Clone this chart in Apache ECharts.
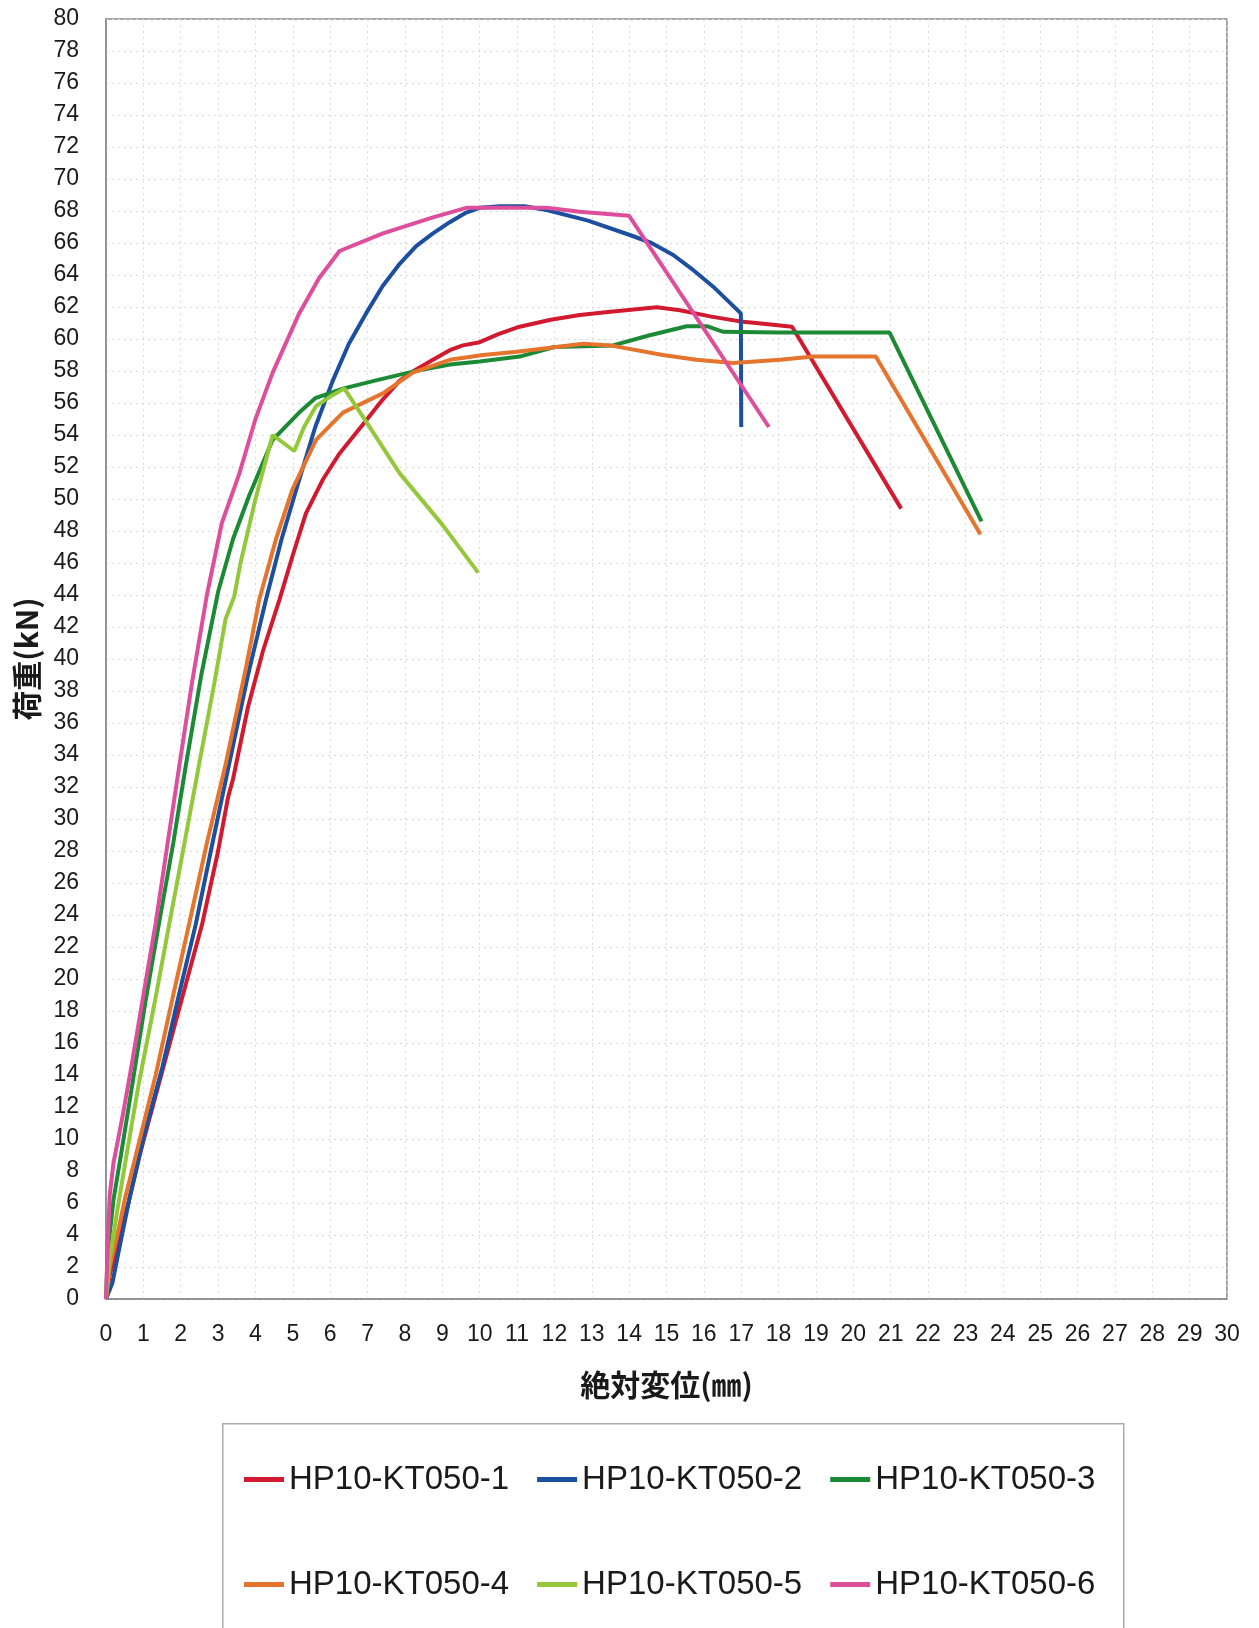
<!DOCTYPE html>
<html><head><meta charset="utf-8">
<script src="https://cdn.jsdelivr.net/npm/echarts@6/dist/echarts.min.js"></script>
<style>html,body{margin:0;padding:0;background:#fff}#c{width:1259px;height:1628px}</style>
</head><body><div id="c"></div>
<script>
const seriesNames = ['HP10-KT050-1','HP10-KT050-2','HP10-KT050-3','HP10-KT050-4','HP10-KT050-5','HP10-KT050-6'];
const xTitle = '絶対変位(㎜)';
const yTitle = '荷重(kN)';

const s1 = [[0,0],[0.1,1.5],[0.4,4.2],[0.62,6.2],[0.9,9],[1.42,13.5],[2.0,18.5],[2.57,23.4],[3.0,28],[3.27,31.4],[3.4,32.5],[3.8,37],[4.2,40.5],[4.64,43.7],[5.0,46.5],[5.35,49.1],[5.8,51.2],[6.25,52.85],[6.96,54.9],[7.4,56.2],[7.86,57.4],[8.3,58.1],[8.75,58.7],[9.2,59.3],[9.55,59.6],[10,59.8],[10.5,60.3],[11.07,60.77],[11.9,61.2],[12.68,61.5],[13.5,61.7],[14.74,61.98],[15.36,61.8],[16.2,61.4],[16.97,61.1],[17.4,61.0],[18.36,60.77],[21.28,49.4]];
const s2 = [[0,0],[0.17,1],[0.35,3.1],[0.62,6.2],[1.05,10.5],[1.51,14.5],[1.95,19],[2.4,23.4],[2.85,28.5],[3.3,33.5],[3.8,39],[4.28,43.7],[4.7,47.5],[5.17,51.2],[5.6,54.5],[6.07,57.4],[6.5,59.7],[6.96,61.6],[7.4,63.3],[7.86,64.7],[8.3,65.8],[8.75,66.6],[9.2,67.3],[9.64,67.9],[10.0,68.2],[10.54,68.3],[11.2,68.3],[11.79,68.06],[12.9,67.4],[14.02,66.5],[14.6,66.0],[15.18,65.25],[15.72,64.3],[16.25,63.27],[16.99,61.6],[17.0,54.5]];
const s3 = [[0,0],[0.05,3],[0.2,6.2],[0.4,9],[0.71,13.5],[1.05,18.5],[1.42,23.5],[1.8,28.5],[2.14,33.4],[2.55,39],[3.0,44.2],[3.4,47.5],[3.83,50.2],[4.46,53.7],[5.17,55.4],[5.6,56.3],[6.34,56.9],[7.2,57.4],[8.21,57.96],[9.2,58.4],[10,58.6],[11.07,58.9],[12,59.5],[13.57,59.6],[14.5,60.2],[15.54,60.8],[16.08,60.8],[16.52,60.45],[18,60.4],[20.97,60.4],[23.43,48.6]];
const s4 = [[0,0],[0.1,2],[0.35,4.5],[0.5,6.2],[0.8,9],[1.33,14],[1.8,19],[2.23,23.5],[2.7,28.5],[3.21,33.5],[3.75,39.5],[4.1,43.7],[4.55,47.5],[4.99,50.6],[5.62,53.7],[6.34,55.4],[7.41,56.6],[8.21,57.9],[9.2,58.7],[10.09,59.0],[11,59.2],[12.77,59.7],[13.5,59.6],[14.9,59.0],[15.8,58.7],[16.79,58.5],[18.04,58.7],[18.93,58.9],[20.6,58.9],[23.4,47.8]];
const s5 = [[0,0],[0.1,2.5],[0.3,5.5],[0.55,9],[0.88,13.5],[1.3,18.5],[1.69,23.4],[2.1,28.5],[2.49,33.4],[2.9,38.5],[3.2,42.5],[3.43,43.9],[3.6,46],[4.0,50],[4.46,54.0],[4.75,53.5],[5.04,53.0],[5.3,54.5],[5.62,55.8],[6.0,56.4],[6.38,56.9],[7.0,54.7],[7.86,51.6],[9.0,48.4],[9.96,45.4]];
const s6 = [[0,0],[0.04,3],[0.1,6.5],[0.2,8.5],[0.45,11.5],[0.7,14.8],[1.0,19],[1.33,23.5],[1.65,28.5],[1.96,33.3],[2.3,38.5],[2.7,44],[3.1,48.5],[3.57,51.6],[4.0,55],[4.46,57.9],[5.17,61.6],[5.7,63.8],[6.25,65.5],[7.41,66.6],[8.75,67.6],[9.64,68.2],[10,68.2],[11.79,68.2],[12.68,67.96],[14.0,67.7],[17.74,54.5]];
const seriesData = [s1,s2,s3,s4,s5,s6];
const colors = ['#d11a2f','#1d4fa0','#1c8a34','#e5742c','#92c83a','#dd4f9c'];

const chart = echarts.init(document.getElementById('c'));
const numFont = 'Liberation Sans, Arial, sans-serif';
const cjkFont = 'Noto Sans CJK JP, sans-serif';
const legendCommon = {
  orient: 'horizontal', itemWidth: 40, itemHeight: 5, itemGap: 28, icon: 'rect',
  textStyle: { fontSize: 33, fontFamily: numFont, color: '#1a1a1a' },
  selectedMode: false
};
chart.setOption({
  backgroundColor: '#fff',
  animation: false,
  color: colors,
  grid: { left: 106, right: 32, top: 19, bottom: 329, show: true, borderColor: '#8a8a8a', borderWidth: 1.5, containLabel: false },
  xAxis: {
    type: 'value', min: 0, max: 30, interval: 1,
    name: xTitle, nameLocation: 'middle', nameGap: 71,
    nameTextStyle: { fontSize: 30, fontFamily: cjkFont, fontWeight: 'bold', color: '#1a1a1a' },
    axisLine: { lineStyle: { color: '#8a8a8a', width: 1.5 } },
    axisTick: { show: false },
    axisLabel: { fontSize: 23, fontFamily: numFont, color: '#1a1a1a', margin: 24 },
    splitLine: { show: true, lineStyle: { color: '#dadada', type: [2, 4], width: 1 } }
  },
  yAxis: {
    type: 'value', min: 0, max: 80, interval: 2,
    name: yTitle, nameLocation: 'middle', nameGap: 64, nameRotate: 90,
    nameTextStyle: { fontSize: 30, fontFamily: cjkFont, fontWeight: 'bold', color: '#1a1a1a' },
    axisLine: { show: true, lineStyle: { color: '#8a8a8a', width: 1.5 } },
    axisTick: { show: false },
    axisLabel: { fontSize: 23, fontFamily: numFont, color: '#1a1a1a', margin: 27 },
    splitLine: { show: true, lineStyle: { color: '#dadada', type: [2, 4], width: 1 } }
  },
  legend: [
    Object.assign({}, legendCommon, { left: 239, top: 1458, data: seriesNames.slice(0,3) }),
    Object.assign({}, legendCommon, { left: 239, top: 1563, data: seriesNames.slice(3,6) })
  ],
  graphic: [{
    type: 'rect', left: 222, top: 1423, z: -1,
    shape: { width: 901, height: 230 },
    style: { fill: '#fff', stroke: '#ababab', lineWidth: 1.5 }
  }],
  series: seriesNames.map((n, i) => ({
    name: n, type: 'line', data: seriesData[i], showSymbol: false, symbol: 'none',
    lineStyle: { width: 4, color: colors[i] }, itemStyle: { color: colors[i] }
  }))
});
</script></body></html>
